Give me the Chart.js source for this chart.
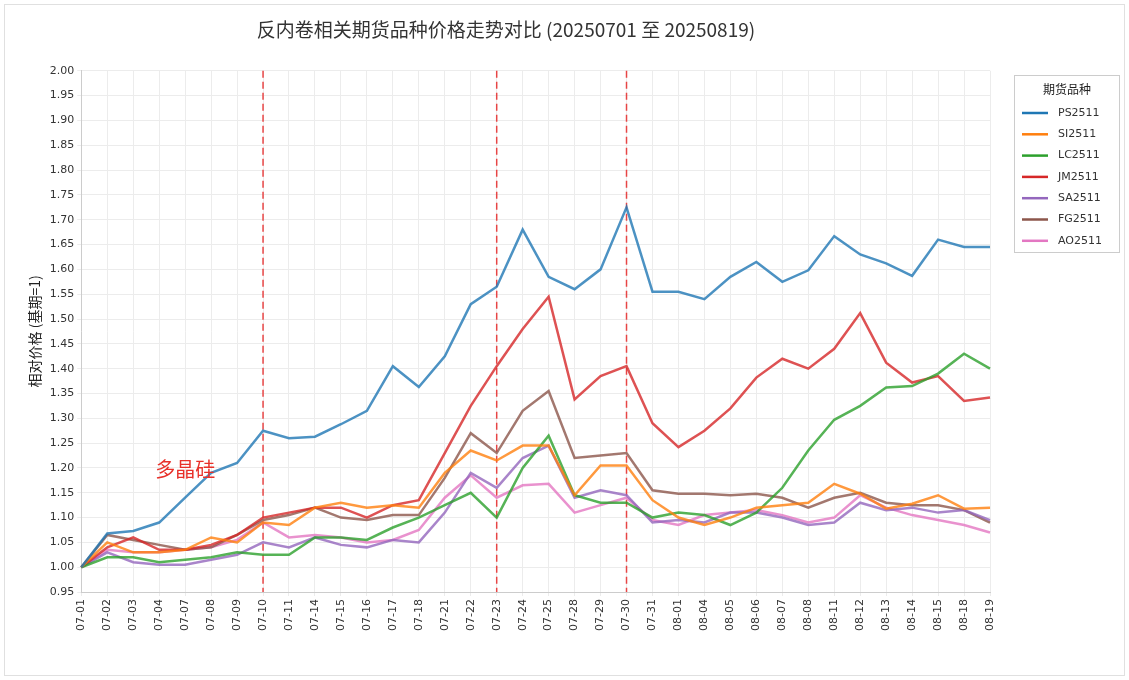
<!DOCTYPE html>
<html><head><meta charset="utf-8">
<script src="https://cdn.jsdelivr.net/npm/chart.js@4/dist/chart.umd.min.js"></script>
<style>html,body{margin:0;padding:0;background:#fff;}#wrap{position:relative;width:1129px;height:680px;}</style>
</head><body><div id="wrap"><canvas id="c" width="1129" height="680"></canvas></div>
<script>
const dates=["07-01","07-02","07-03","07-04","07-07","07-08","07-09","07-10","07-11","07-14","07-15","07-16","07-17","07-18","07-21","07-22","07-23","07-24","07-25","07-28","07-29","07-30","07-31","08-01","08-04","08-05","08-06","08-07","08-08","08-11","08-12","08-13","08-14","08-15","08-18","08-19"];
const PS2511=[1.00,1.068,1.073,1.09,1.14,1.19,1.21,1.275,1.26,1.263,1.288,1.315,1.405,1.363,1.425,1.53,1.565,1.68,1.585,1.56,1.60,1.725,1.555,1.555,1.54,1.585,1.615,1.575,1.598,1.667,1.63,1.612,1.587,1.66,1.645,1.645];
const SI2511=[1.00,1.05,1.03,1.03,1.035,1.06,1.05,1.09,1.085,1.12,1.13,1.12,1.125,1.12,1.19,1.235,1.215,1.245,1.245,1.145,1.205,1.205,1.135,1.10,1.085,1.10,1.12,1.125,1.13,1.168,1.148,1.118,1.128,1.145,1.118,1.12];
const LC2511=[1.00,1.02,1.02,1.01,1.015,1.02,1.03,1.025,1.025,1.06,1.06,1.055,1.08,1.10,1.125,1.15,1.10,1.20,1.265,1.145,1.13,1.13,1.10,1.11,1.105,1.085,1.11,1.16,1.235,1.297,1.325,1.362,1.365,1.39,1.43,1.40];
const JM2511=[1.00,1.04,1.06,1.035,1.035,1.045,1.065,1.10,1.11,1.12,1.12,1.10,1.125,1.135,1.23,1.325,1.405,1.48,1.545,1.338,1.385,1.405,1.29,1.242,1.275,1.32,1.382,1.42,1.40,1.44,1.512,1.412,1.372,1.385,1.335,1.342];
const SA2511=[1.00,1.03,1.01,1.005,1.005,1.015,1.025,1.05,1.04,1.06,1.045,1.04,1.055,1.05,1.11,1.19,1.16,1.22,1.245,1.14,1.155,1.145,1.09,1.095,1.09,1.11,1.11,1.10,1.085,1.09,1.13,1.115,1.12,1.11,1.115,1.095];
const FG2511=[1.00,1.065,1.055,1.045,1.035,1.04,1.065,1.095,1.105,1.12,1.10,1.095,1.105,1.105,1.18,1.27,1.23,1.315,1.355,1.22,1.225,1.23,1.155,1.148,1.148,1.145,1.148,1.14,1.12,1.14,1.15,1.13,1.125,1.125,1.115,1.09];
const AO2511=[1.00,1.035,1.03,1.03,1.035,1.04,1.055,1.09,1.06,1.065,1.06,1.05,1.055,1.075,1.14,1.185,1.14,1.165,1.168,1.11,1.125,1.14,1.095,1.085,1.105,1.11,1.115,1.105,1.09,1.10,1.145,1.12,1.105,1.095,1.085,1.07];
const seriesNames=["PS2511","SI2511","LC2511","JM2511","SA2511","FG2511","AO2511"];
const seriesData=[PS2511,SI2511,LC2511,JM2511,SA2511,FG2511,AO2511];
const colors=["#1f77b4","#ff7f0e","#2ca02c","#d62728","#9467bd","#8c564b","#e377c2"];
const markDates=["07-10","07-23","07-30"];
const noteText="多晶硅"; const noteDate="07-04"; const noteValue=1.197;
const legendTitle="期货品种";
const F="'DejaVu Sans', 'Noto Sans CJK SC', sans-serif";
const extras={id:'extras',
 beforeDatasetsDraw(ch){const {ctx,chartArea:a,scales:{x}}=ch;ctx.save();ctx.strokeStyle='rgba(230,40,40,0.85)';ctx.lineWidth=1.5;ctx.setLineDash([7,4]);
  markDates.forEach(d=>{const px=x.getPixelForValue(dates.indexOf(d));ctx.beginPath();ctx.moveTo(px,a.top);ctx.lineTo(px,a.bottom);ctx.stroke();});ctx.restore();},
 afterDraw(ch){const {ctx,scales:{x,y}}=ch;ctx.save();ctx.fillStyle='#e8312a';ctx.font="20px 'Noto Sans CJK SC'";ctx.textBaseline='middle';
  ctx.fillText(noteText,x.getPixelForValue(dates.indexOf(noteDate))-4,y.getPixelForValue(noteValue));
  const lx=1014,ly=75,lw=106,lh=178;
  ctx.fillStyle='#fff';ctx.strokeStyle='#cccccc';ctx.lineWidth=1;ctx.fillRect(lx,ly,lw,lh);ctx.strokeRect(lx+0.5,ly+0.5,lw-1,lh-1);
  ctx.fillStyle='#222';ctx.font="12px 'Noto Sans CJK SC'";ctx.textAlign='center';ctx.fillText(legendTitle,lx+lw/2,ly+14);
  ctx.textAlign='left';ctx.font="11px "+F;
  seriesNames.forEach((n,i)=>{const yy=ly+38+i*21.3;ctx.strokeStyle=colors[i];ctx.lineWidth=2.5;ctx.beginPath();ctx.moveTo(lx+8,yy);ctx.lineTo(lx+34,yy);ctx.stroke();
   ctx.fillStyle='#333';ctx.fillText(n,lx+44,yy);});
  ctx.strokeStyle='#e0e0e0';ctx.lineWidth=1;ctx.strokeRect(4.5,4.5,1120,671);ctx.restore();}};
new Chart(document.getElementById('c'),{type:'line',
 data:{labels:dates,datasets:seriesNames.map((n,i)=>({label:n,data:seriesData[i],borderColor:colors[i]+'cc',backgroundColor:colors[i],borderWidth:2.5,pointRadius:0,tension:0}))},
 options:{responsive:false,animation:false,
  layout:{padding:{top:12,right:139,left:22,bottom:46}},
  plugins:{title:{display:true,text:'反内卷相关期货品种价格走势对比 (20250701 至 20250819)',font:{family:"'Noto Sans CJK SC'",size:19,weight:'normal'},color:'#333',padding:{top:6,bottom:30}},
   legend:{display:false},tooltip:{enabled:false}},
  scales:{x:{grid:{color:'#ececec',tickLength:4},border:{color:'#ccc'},ticks:{maxRotation:90,minRotation:90,autoSkip:false,font:{family:F,size:11},color:'#333'}},
   y:{min:0.95,max:2.0,grid:{color:'#ececec',tickLength:4},border:{color:'#ccc'},ticks:{stepSize:0.05,callback:v=>v.toFixed(2),font:{family:F,size:11},color:'#333'},
    title:{display:true,text:'相对价格 (基期=1)',font:{family:"'Noto Sans CJK SC'",size:14},color:'#222'}}}},
 plugins:[extras]});
</script></body></html>
